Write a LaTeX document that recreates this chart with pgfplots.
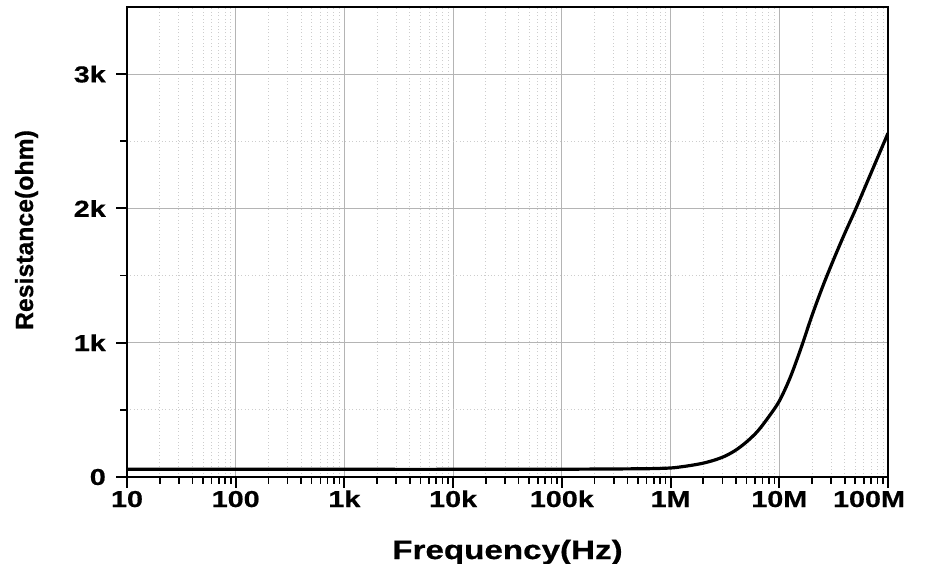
\documentclass[border=0pt]{standalone}
\usepackage{fontspec}
\setmainfont{Liberation Sans}[BoldFeatures={FakeBold=0.6}]
\newfontfamily\widefont{Liberation Sans}[FakeStretch=1.25, BoldFeatures={FakeBold=0.6}]
\usepackage{pgfplots}
\pgfplotsset{compat=1.18}
\definecolor{majgrid}{RGB}{180,180,180}
\definecolor{mingrid}{RGB}{205,205,205}
\begin{document}
\begin{tikzpicture}
\path[use as bounding box] (-95.25pt,-65.25pt) rectangle (604.5pt,357.75pt);
\begin{axis}[
  scale only axis,
  width=570.75pt, height=352.5pt,
  xmode=log, log basis x=10,
  xmin=10, xmax=1e8,
  ymin=0, ymax=3500,
  xtick={10,100,1000,10000,100000,1000000,10000000,100000000},
  xticklabels={10,100,1k,10k,100k,1M,10M,{100M\hspace*{28.5pt}}},
  minor xtick={20,30,40,50,60,70,80,90,
    200,300,400,500,600,700,800,900,
    2000,3000,4000,5000,6000,7000,8000,9000,
    20000,30000,40000,50000,60000,70000,80000,90000,
    200000,300000,400000,500000,600000,700000,800000,900000,
    2000000,3000000,4000000,5000000,6000000,7000000,8000000,9000000,
    20000000,30000000,40000000,50000000,60000000,70000000,80000000,90000000},
  ytick={0,1000,2000,3000},
  yticklabels={0,1k,2k,3k},
  minor ytick={500,1500,2500},
  tick pos=left,
  tick align=outside,
  major tick length=8pt,
  minor tick length=5pt,
  every tick/.style={black, line width=1.4pt},
  every minor tick/.style={black, line width=1.2pt},
  axis line style={black, line width=1.6pt},
  grid=both,
  major grid style={majgrid, line width=0.8pt, solid},
  minor grid style={mingrid, line width=0.6pt, dotted},
  /pgf/number format/assume math mode=true,
  tick label style={font=\widefont\bfseries\fontsize{17.25pt}{19pt}\selectfont},
  xticklabel style={anchor=base, inner sep=0pt, yshift=-14.5pt},
  yticklabel style={anchor=east, inner sep=0pt, xshift=-7.75pt},
  xlabel={Frequency(Hz)},
  ylabel={Resistance(ohm)},
  xlabel style={font=\widefont\bfseries\fontsize{19.9pt}{21pt}\selectfont, at={(axis description cs:0.5,-0.1745)}, anchor=base, inner sep=0pt},
  ylabel style={font=\bfseries\fontsize{18.6pt}{20pt}\selectfont, at={(axis description cs:-0.1235,0.5255)}, anchor=base, inner sep=0pt},
]
\addplot[black, line width=2.4pt, smooth, tension=0.5] coordinates {
(10,57) (100,57) (1000,57) (10000,57) (100000,58) (316000,60) (631000,62)
(1000000,67) (1259000,76) (1585000,88) (1995000,103) (2512000,125)
(3162000,155) (3981000,200) (5012000,262) (6310000,340) (7943000,445)
(10000000,565) (12590000,740) (15850000,960) (19950000,1200)
(25120000,1420) (31620000,1620) (39810000,1810) (50120000,1990)
(63100000,2180) (79430000,2370) (100000000,2560)
};
\end{axis}
\end{tikzpicture}
\end{document}
